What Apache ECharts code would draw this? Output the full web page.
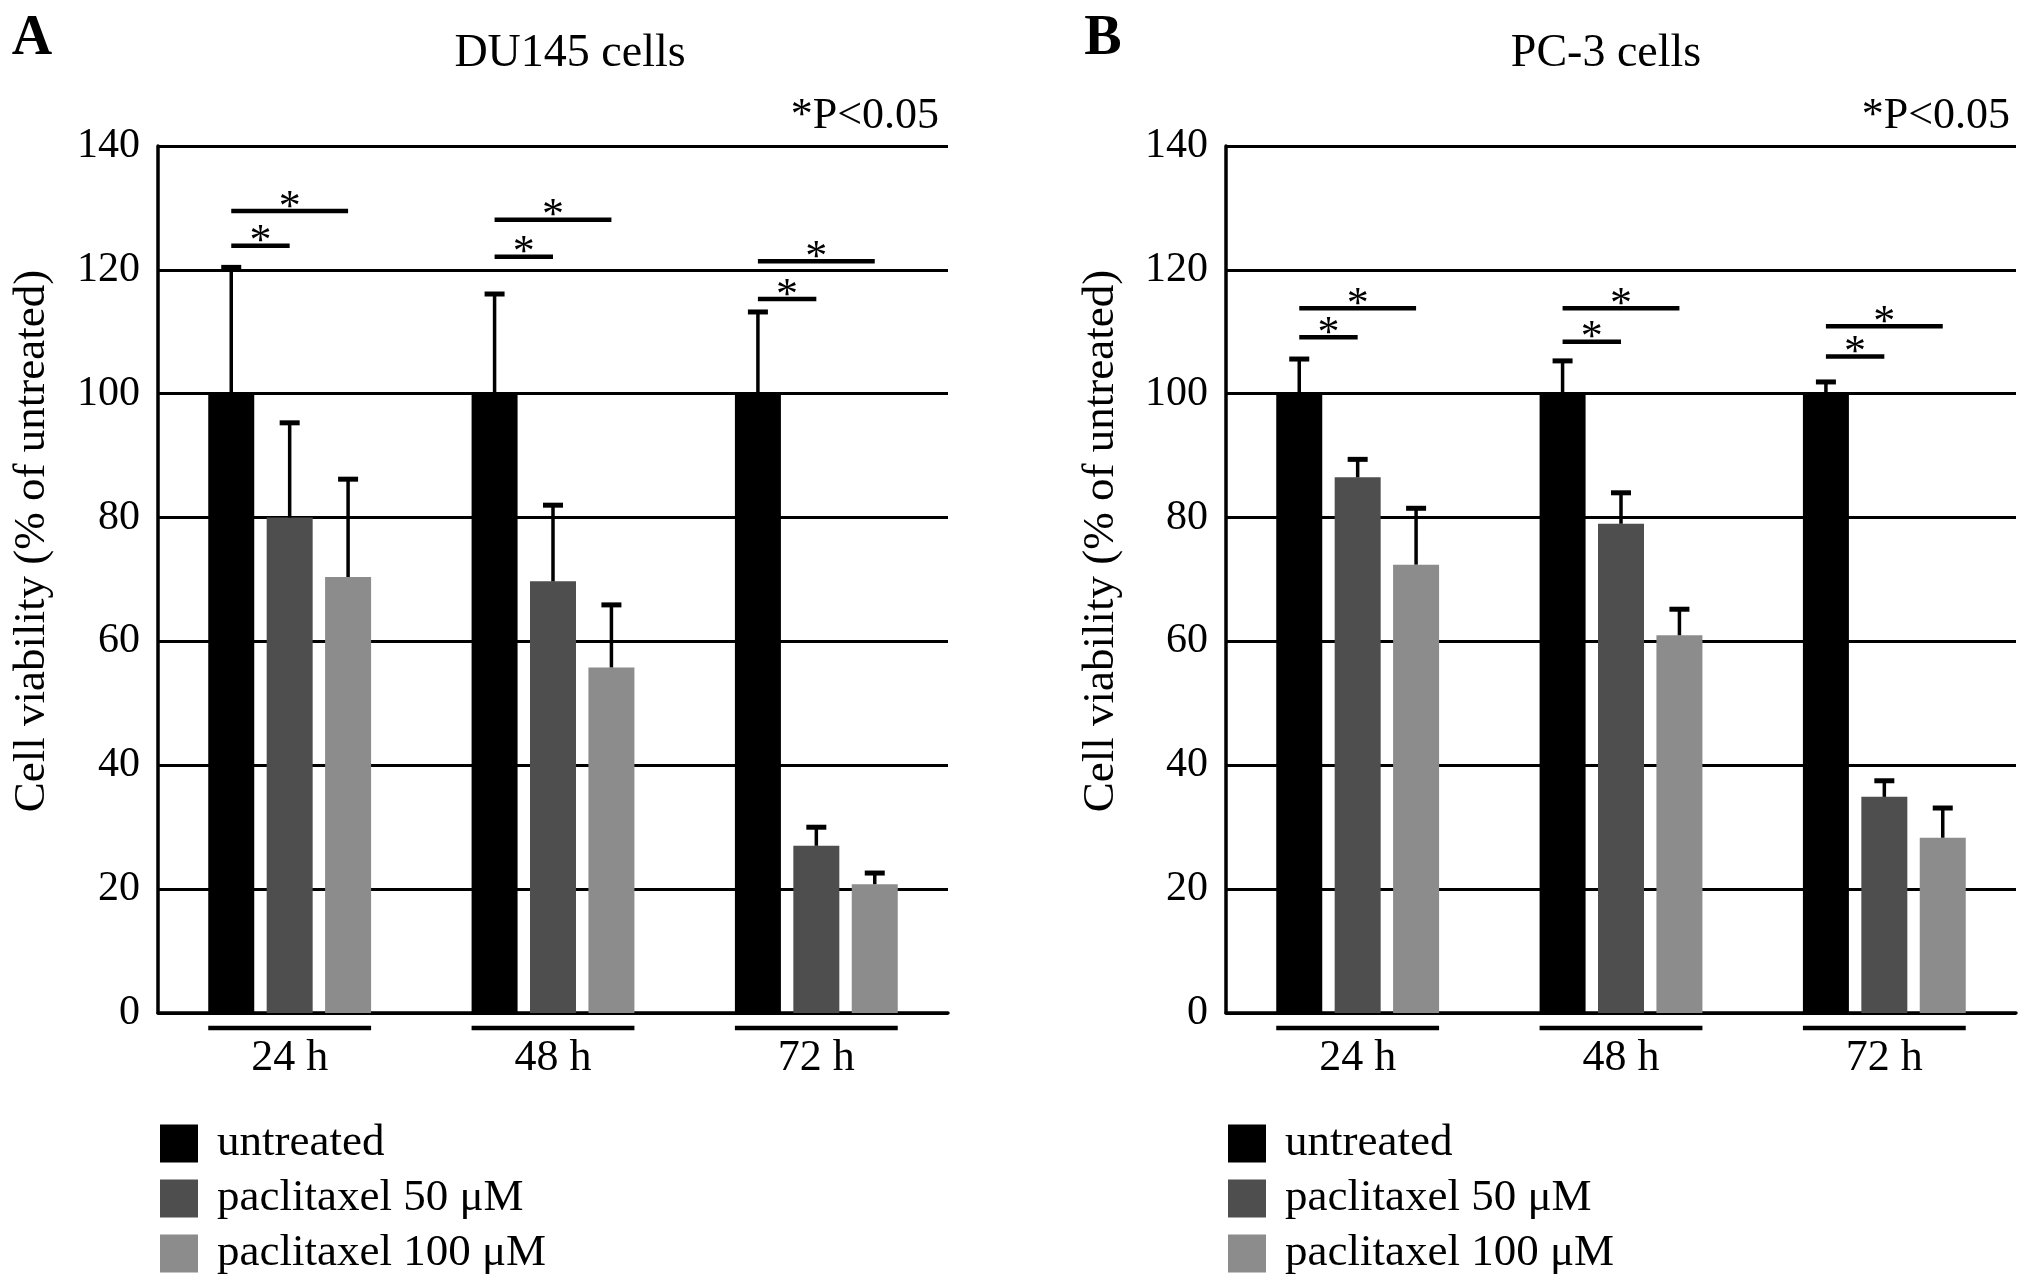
<!DOCTYPE html>
<html>
<head>
<meta charset="utf-8">
<script src="https://cdn.jsdelivr.net/npm/echarts@6/dist/echarts.min.js"></script>
<style>
html,body{margin:0;padding:0;background:#fff;}
#chart{width:2031px;height:1284px;}
</style>
</head>
<body>
<div id="chart"></div>
<script>
// ---- data ----
const categories = ['24 h', '48 h', '72 h'];
const seriesNames = ['untreated', 'paclitaxel 50 \u03bcM', 'paclitaxel 100 \u03bcM'];
const yTicks = [0, 20, 40, 60, 80, 100, 120, 140];

const du145Untreated = [100, 100, 100];
const du145UntreatedSD = [20.4, 16.1, 13.2];
const du145P50 = [80.0, 69.7, 27.0];
const du145P50SD = [15.3, 12.3, 3.0];
const du145P100 = [70.4, 55.8, 20.8];
const du145P100SD = [15.8, 10.1, 1.8];
const du145SigLow = [123.9, 122.1, 115.3];   // untreated vs 50 uM
const du145SigHigh = [129.5, 128.1, 121.4];  // untreated vs 100 uM

const pc3Untreated = [100, 100, 100];
const pc3UntreatedSD = [5.6, 5.3, 1.9];
const pc3P50 = [86.5, 79.0, 34.9];
const pc3P50SD = [2.9, 5.0, 2.6];
const pc3P100 = [72.4, 61.0, 28.3];
const pc3P100SD = [9.1, 4.2, 4.8];
const pc3SigLow = [109.1, 108.4, 106.0];
const pc3SigHigh = [113.8, 113.8, 110.9];

const panelTitles = ['DU145 cells', 'PC-3 cells'];
const panelLetters = ['A', 'B'];
const pNote = '*P<0.05';
const yName = 'Cell viability (% of untreated)';

// ---- style ----
const FONT = '"Liberation Serif", "Times New Roman", serif';
const colors = ['#000000', '#4e4e4e', '#8c8c8c'];
const BAR_W = 46;
const BAR_GAP = 0.27;
const STEP = BAR_W * (1 + BAR_GAP);

function errData(vals, sds, sIdx) {
  return vals.map((v, i) => [i, sIdx, v, sds[i]]);
}
function sigData(low, high) {
  const out = [];
  low.forEach((y, i) => out.push([i, 1, y]));
  high.forEach((y, i) => out.push([i, 2, y]));
  return out;
}

function renderErr(params, api) {
  const cat = api.value(0), s = api.value(1), v = api.value(2), sd = api.value(3);
  const b = api.coord([cat, v]);
  const t = api.coord([cat, v + sd]);
  const x = b[0] + (s - 1) * STEP;
  return {
    type: 'group',
    children: [
      { type: 'line', shape: { x1: x, y1: b[1], x2: x, y2: t[1] }, style: { stroke: '#000', lineWidth: 3.5 } },
      { type: 'line', shape: { x1: x - 10, y1: t[1], x2: x + 10, y2: t[1] }, style: { stroke: '#000', lineWidth: 5 } }
    ]
  };
}
function renderSig(params, api) {
  const cat = api.value(0), s = api.value(1), y = api.value(2);
  const c = api.coord([cat, y]);
  const x1 = c[0] - STEP;
  const x2 = c[0] + (s - 1) * STEP;
  return {
    type: 'group',
    children: [
      { type: 'line', shape: { x1: x1, y1: c[1], x2: x2, y2: c[1] }, style: { stroke: '#000', lineWidth: 4.5 } },
      { type: 'text', x: (x1 + x2) / 2, y: c[1] - 3, style: { text: '*', font: '44px ' + FONT, fill: '#000', align: 'center', verticalAlign: 'middle' } }
    ]
  };
}
function renderUnder(params, api) {
  const cat = api.value(0);
  const c = api.coord([cat, 0]);
  const y = c[1] + 15;
  return {
    type: 'line',
    shape: { x1: c[0] - STEP - BAR_W / 2, y1: y, x2: c[0] + STEP + BAR_W / 2, y2: y },
    style: { stroke: '#000', lineWidth: 4.5 }
  };
}

const chart = echarts.init(document.getElementById('chart'));

const grids = [
  { left: 158, top: 146, width: 790, height: 867, outerBoundsMode: 'none' },
  { left: 1226, top: 146, width: 790, height: 867, outerBoundsMode: 'none' }
];

function xAxisFor(idx) {
  return {
    type: 'category', gridIndex: idx, data: categories,
    axisLine: { show: true, lineStyle: { color: '#000', width: 3.5 } },
    axisTick: { show: false },
    axisLabel: { color: '#000', fontSize: 44, fontFamily: FONT, margin: 23 },
    splitLine: { show: false }
  };
}
function yAxisFor(idx) {
  return {
    type: 'value', gridIndex: idx, min: yTicks[0], max: yTicks[yTicks.length - 1], interval: 20,
    axisLine: { show: true, lineStyle: { color: '#000', width: 3.5 } },
    axisTick: { show: false },
    axisLabel: { color: '#000', fontSize: 42, fontFamily: FONT, margin: 18 },
    splitLine: { show: true, lineStyle: { color: '#000', width: 3 } }
  };
}

const panels = [
  { vals: [du145Untreated, du145P50, du145P100], sds: [du145UntreatedSD, du145P50SD, du145P100SD], low: du145SigLow, high: du145SigHigh },
  { vals: [pc3Untreated, pc3P50, pc3P100], sds: [pc3UntreatedSD, pc3P50SD, pc3P100SD], low: pc3SigLow, high: pc3SigHigh }
];

const series = [];
panels.forEach((p, g) => {
  p.vals.forEach((vals, s) => {
    series.push({
      type: 'bar', name: seriesNames[s], xAxisIndex: g, yAxisIndex: g,
      data: vals, barWidth: BAR_W, barGap: (BAR_GAP * 100) + '%',
      itemStyle: { color: colors[s] }, silent: true, animation: false
    });
  });
  p.vals.forEach((vals, s) => {
    series.push({
      type: 'custom', name: 'err' + g + s, xAxisIndex: g, yAxisIndex: g,
      data: errData(vals, p.sds[s], s), renderItem: renderErr,
      encode: { x: 0, y: 2 }, z: 5, clip: false, silent: true, animation: false
    });
  });
  series.push({
    type: 'custom', name: 'sig' + g, xAxisIndex: g, yAxisIndex: g,
    data: sigData(p.low, p.high), renderItem: renderSig,
    encode: { x: 0, y: 2 }, z: 5, clip: false, silent: true, animation: false
  });
  series.push({
    type: 'custom', name: 'under' + g, xAxisIndex: g, yAxisIndex: g,
    data: categories.map((c, i) => [i, 0]), renderItem: renderUnder,
    encode: { x: 0, y: 1 }, z: 5, clip: false, silent: true, animation: false
  });
});

function legendFor(left) {
  return {
    orient: 'vertical', left: left, top: 1121, padding: 0,
    data: seriesNames, icon: 'rect', itemWidth: 38, itemHeight: 38, itemGap: 10,
    selectedMode: false,
    textStyle: { color: '#000', fontSize: 45, fontFamily: FONT, padding: [0, 0, 0, 14] }
  };
}

const texts = [];
const panelX = [{ letter: 32, title: 570, p: 939, yname: 32 }, { letter: 1103, title: 1606, p: 2010, yname: 1101 }];
panelX.forEach((px, g) => {
  texts.push({ type: 'text', x: px.letter, y: 40, style: { text: panelLetters[g], font: 'bold 56px ' + FONT, fill: '#000', align: 'center', verticalAlign: 'middle' } });
  texts.push({ type: 'text', x: px.title, y: 54, style: { text: panelTitles[g], font: '46px ' + FONT, fill: '#000', align: 'center', verticalAlign: 'middle' } });
  texts.push({ type: 'text', x: px.p, y: 116, style: { text: pNote, font: '44px ' + FONT, fill: '#000', align: 'right', verticalAlign: 'middle' } });
  texts.push({ type: 'text', x: px.yname, y: 541, rotation: Math.PI / 2, style: { text: yName, font: '45px ' + FONT, fill: '#000', align: 'center', verticalAlign: 'middle' } });
});

chart.setOption({
  backgroundColor: '#fff',
  animation: false,
  grid: grids,
  xAxis: [xAxisFor(0), xAxisFor(1)],
  yAxis: [yAxisFor(0), yAxisFor(1)],
  legend: [legendFor(160), legendFor(1228)],
  graphic: texts,
  series: series
});
</script>
</body>
</html>
